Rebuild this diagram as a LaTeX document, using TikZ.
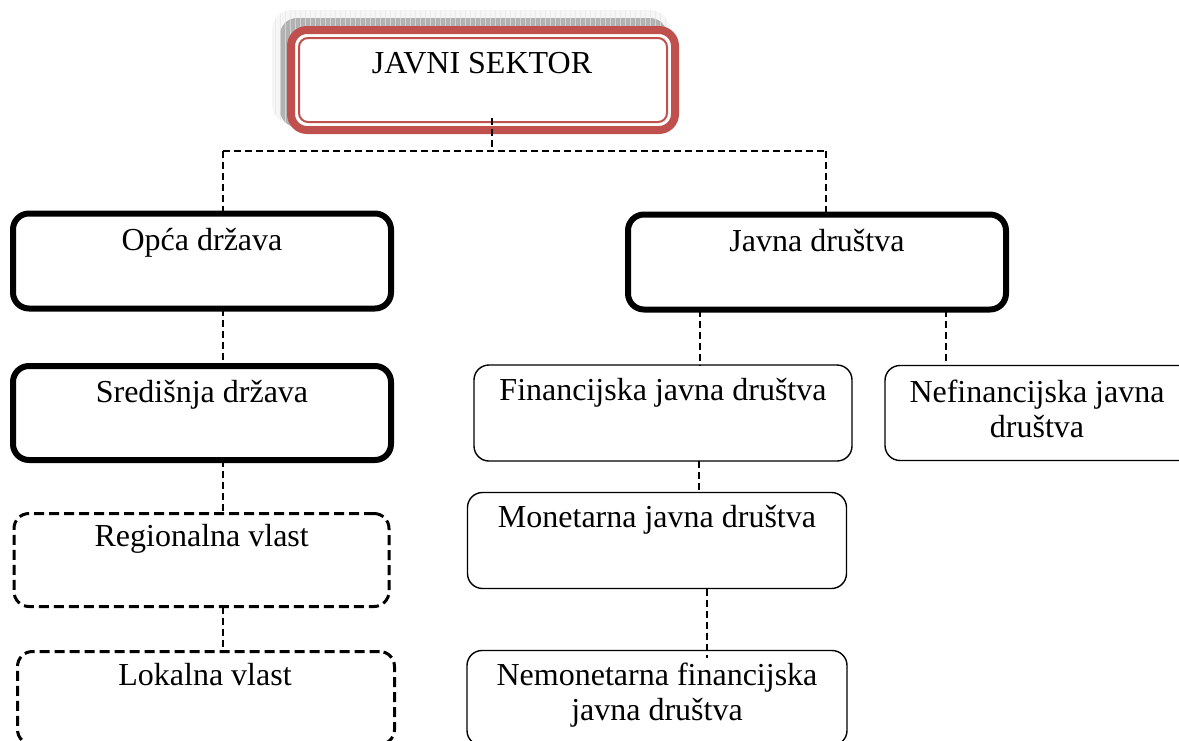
\documentclass[tikz,border=0pt]{standalone}
\usepackage{fontspec}
\setmainfont{Liberation Serif}
\definecolor{boxred}{HTML}{C0504D}
\begin{document}
\begin{tikzpicture}[x=1pt,y=-1pt,
  every node/.style={inner sep=0pt, outer sep=0pt},
  lbl/.style={anchor=base, font=\fontsize{32}{35}\selectfont, align=center},
  thickbox/.style={draw=black, line width=6pt, rounded corners=16pt, fill=white},
  thinbox/.style={draw=black, line width=1.4pt, rounded corners=15pt, fill=white},
  dashbox/.style={draw=black, line width=3pt, rounded corners=15pt, fill=white, dash pattern=on 10pt off 5pt},
  conn/.style={draw=black, line width=1.4pt, dash pattern=on 7pt off 4pt},
]
\useasboundingbox (0,0) rectangle (1179,740);
\clip (0,0) rectangle (1179,740);

% shadow of the title box
\begin{scope}
  \clip[rounded corners=20pt] (272,10) rectangle (670,124);
  \fill[gray!7] (272,10) rectangle (670,124);
  \draw[gray!16, line width=0.4pt, step=5] (270,10) grid (675,130);
\end{scope}
\begin{scope}
  \clip[rounded corners=17pt] (280,18) rectangle (667,127);
  \fill[gray!60] (280,18) rectangle (667,127);
  \draw[gray!35, line width=0.5pt, step=5] (275,15) grid (670,130);
\end{scope}

% title box
\node[draw=boxred, line width=8pt, rounded corners=16pt, fill=white,
      minimum width=384pt, minimum height=100pt] (top) at (483,80) {};
\node[draw=boxred, line width=2pt, rounded corners=9pt,
      minimum width=368pt, minimum height=84pt] (topin) at (483,80) {};
\node[lbl] (toptxt) at (482,73) {JAVNI SEKTOR};

% left column
\node[thickbox, minimum width=378pt, minimum height=95pt] (opca) at (202,261) {};
\node[lbl] (opcatxt) at (202,250) {Opća država};
\node[thickbox, minimum width=378pt, minimum height=94pt] (sred) at (202,413) {};
\node[lbl] (sredtxt) at (202,402.7) {Središnja država};
\node[dashbox, minimum width=375pt, minimum height=93pt] (reg) at (201.5,560) {};
\node[lbl] (regtxt) at (201.7,546.7) {Regionalna vlast};
\node[dashbox, minimum width=377pt, minimum height=93pt] (lok) at (206,698) {};
\node[lbl] (loktxt) at (205,685) {Lokalna vlast};

% right part
\node[thickbox, minimum width=378pt, minimum height=95pt] (javna) at (817,262) {};
\node[lbl] (javnatxt) at (817,251) {Javna društva};
\node[thinbox, minimum width=378pt, minimum height=96pt] (fin) at (663,413) {};
\node[lbl] (fintxt) at (663,400.7) {Financijska javna društva};
\node[thinbox, minimum width=378pt, minimum height=95pt] (nefin) at (1074,413) {};
\node[lbl] (nefintxt) at (1037,437) {Nefinancijska javna\\društva};
\node[thinbox, minimum width=379pt, minimum height=96pt] (mon) at (657,540.5) {};
\node[lbl] (montxt) at (657,527) {Monetarna javna društva};
\node[thinbox, minimum width=380pt, minimum height=95pt] (nemon) at (657,698) {};
\node[lbl] (nemontxt) at (657,720) {Nemonetarna financijska\\javna društva};

% connectors
\coordinate (jl) at (223,151);
\coordinate (jm) at (492,151);
\coordinate (jr) at (826,151);
\draw[conn] (jm |- 0,118) -- (jm);
\draw[conn] (jl) -- (jr);
\draw[conn] (jl) -- (jl |- opca.north);
\draw[conn] (jr) -- (jr |- javna.north);
\draw[conn] (opca.south -| 223,0) -- (sred.north -| 223,0);
\draw[conn] (sred.south -| 223,0) -- (reg.north -| 223,0);
\draw[conn] (reg.south -| 223,0) -- (lok.north -| 223,0);
\draw[conn] (javna.south -| 700,0) -- (fin.north -| 700,0);
\draw[conn] (javna.south -| 946,0) -- (nefin.north -| 946,0);
\draw[conn] (fin.south -| 699,0) -- (mon.north -| 699,0);
\draw[conn] (mon.south -| 707,0) -- ([yshift=-7pt]nemon.north -| 707,0);
\end{tikzpicture}
\end{document}
